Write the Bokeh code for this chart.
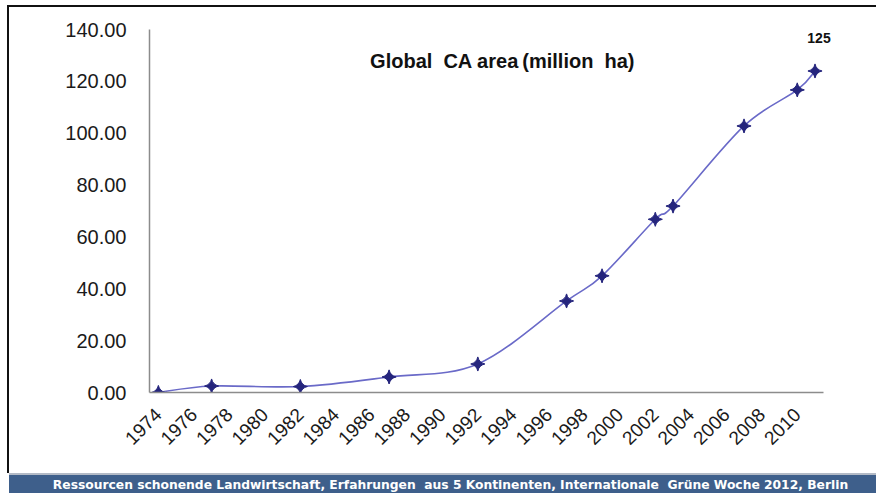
import math
from bokeh.plotting import figure
from bokeh.models import Range1d, FixedTicker, Label, Div, PrintfTickFormatter
from bokeh.layouts import column, row
from bokeh.embed import file_html
from bokeh.resources import INLINE

# ---- data ----
years = [1974, 1977, 1982, 1987, 1992, 1997, 1999, 2002, 2003, 2007, 2010, 2011]
area = [0.0, 2.5, 2.3, 6.0, 11.0, 35.3, 45.0, 66.8, 71.9, 102.8, 116.7, 124.0]
tick_years = list(range(1974, 2011, 2))
y_ticks = [0, 20, 40, 60, 80, 100, 120, 140]
chart_title = "Global\u00a0 CA area\u2009(million\u00a0 ha)"
last_label = "125"
footer = "Ressourcen schonende Landwirtschaft, Erfahrungen&nbsp; aus 5 Kontinenten, Internationale&nbsp; Grüne Woche 2012, Berlin"

FONT = "Liberation Sans"

p = figure(width=867, height=466, output_backend="svg", toolbar_location=None,
           x_range=Range1d(1973.5, 2013.0), y_range=Range1d(0, 140),
           min_border_left=140, min_border_right=26, min_border_top=22, min_border_bottom=81)
p.outline_line_color = None
p.xgrid.grid_line_color = None
p.ygrid.grid_line_color = None
p.background_fill_color = "white"
p.border_fill_color = "white"

# axes
p.xaxis.ticker = FixedTicker(ticks=tick_years)
p.xaxis.major_label_overrides = {y: str(y) for y in tick_years}
p.xaxis.major_label_orientation = math.pi / 4
p.xaxis.bounds = (1973.5, 2011.5)
p.yaxis.ticker = FixedTicker(ticks=y_ticks)
p.yaxis.formatter = PrintfTickFormatter(format="%.2f")
for ax in (p.xaxis, p.yaxis):
    ax.axis_line_color = "#8c8c8c"
    ax.axis_line_width = 1.5
    ax.major_tick_line_color = None
    ax.minor_tick_line_color = None
    ax.major_label_text_font = FONT
    ax.major_label_text_color = "#1a1a1a"
p.xaxis.major_label_text_font_size = "19px"
p.xaxis.major_label_standoff = 13
p.yaxis.major_label_text_font_size = "20px"
p.yaxis.major_label_standoff = 17

# smoothed line (Catmull-Rom style bezier through the data points)
n = len(years)
x0, y0, x1, y1, cx0, cy0, cx1, cy1 = [], [], [], [], [], [], [], []
for i in range(n - 1):
    xp, yp = years[max(i - 1, 0)], area[max(i - 1, 0)]
    xa, ya = years[i], area[i]
    xb, yb = years[i + 1], area[i + 1]
    xn, yn = years[min(i + 2, n - 1)], area[min(i + 2, n - 1)]
    x0.append(xa); y0.append(ya); x1.append(xb); y1.append(yb)
    cx0.append(xa + (xb - xp) / 6.0); cy0.append(ya + (yb - yp) / 6.0)
    cx1.append(xb - (xn - xa) / 6.0); cy1.append(yb - (yn - ya) / 6.0)
p.bezier(x0=x0, y0=y0, x1=x1, y1=y1, cx0=cx0, cy0=cy0, cx1=cx1, cy1=cy1,
         line_color="#6a6ac8", line_width=1.6)

p.scatter(years, area, marker="square_pin", angle=math.pi / 4, size=10,
          fill_color="#25257d", line_color="#25257d")

p.add_layout(Label(x=1993.4, y=127.8, text=chart_title, text_align="center",
                   text_baseline="middle", text_font=FONT, text_font_style="bold",
                   text_font_size="20px", text_color="#111"))
p.add_layout(Label(x=years[-1], y=area[-1], x_offset=4, y_offset=33, text=last_label,
                   text_align="center", text_baseline="middle", text_font=FONT,
                   text_font_style="bold", text_font_size="14px", text_color="#111"))

top_bar = Div(text="", width=869, height=2, margin=(5, 0, 0, 7),
              styles={"background-color": "#111"})
left_bar = Div(text="", width=2, height=466, margin=(0, 0, 0, 7),
               styles={"background-color": "#111"})
banner = Div(text=footer, width=867, height=20, margin=(0, 0, 0, 9),
             styles={"background-color": "#3e5f8b", "color": "white",
                     "font-family": "DejaVu Sans", "font-size": "12.3px", "font-weight": "bold",
                     "text-align": "center", "border-top": "2px solid #b3bac6",
                     "box-sizing": "border-box", "padding-top": "3px", "padding-left": "16px",
                     "line-height": "15px",
                     "overflow": "hidden", "white-space": "nowrap"})

layout = column(top_bar, row(left_bar, p, spacing=0), banner, spacing=0)
open("out.html", "w").write(file_html(layout, INLINE))
